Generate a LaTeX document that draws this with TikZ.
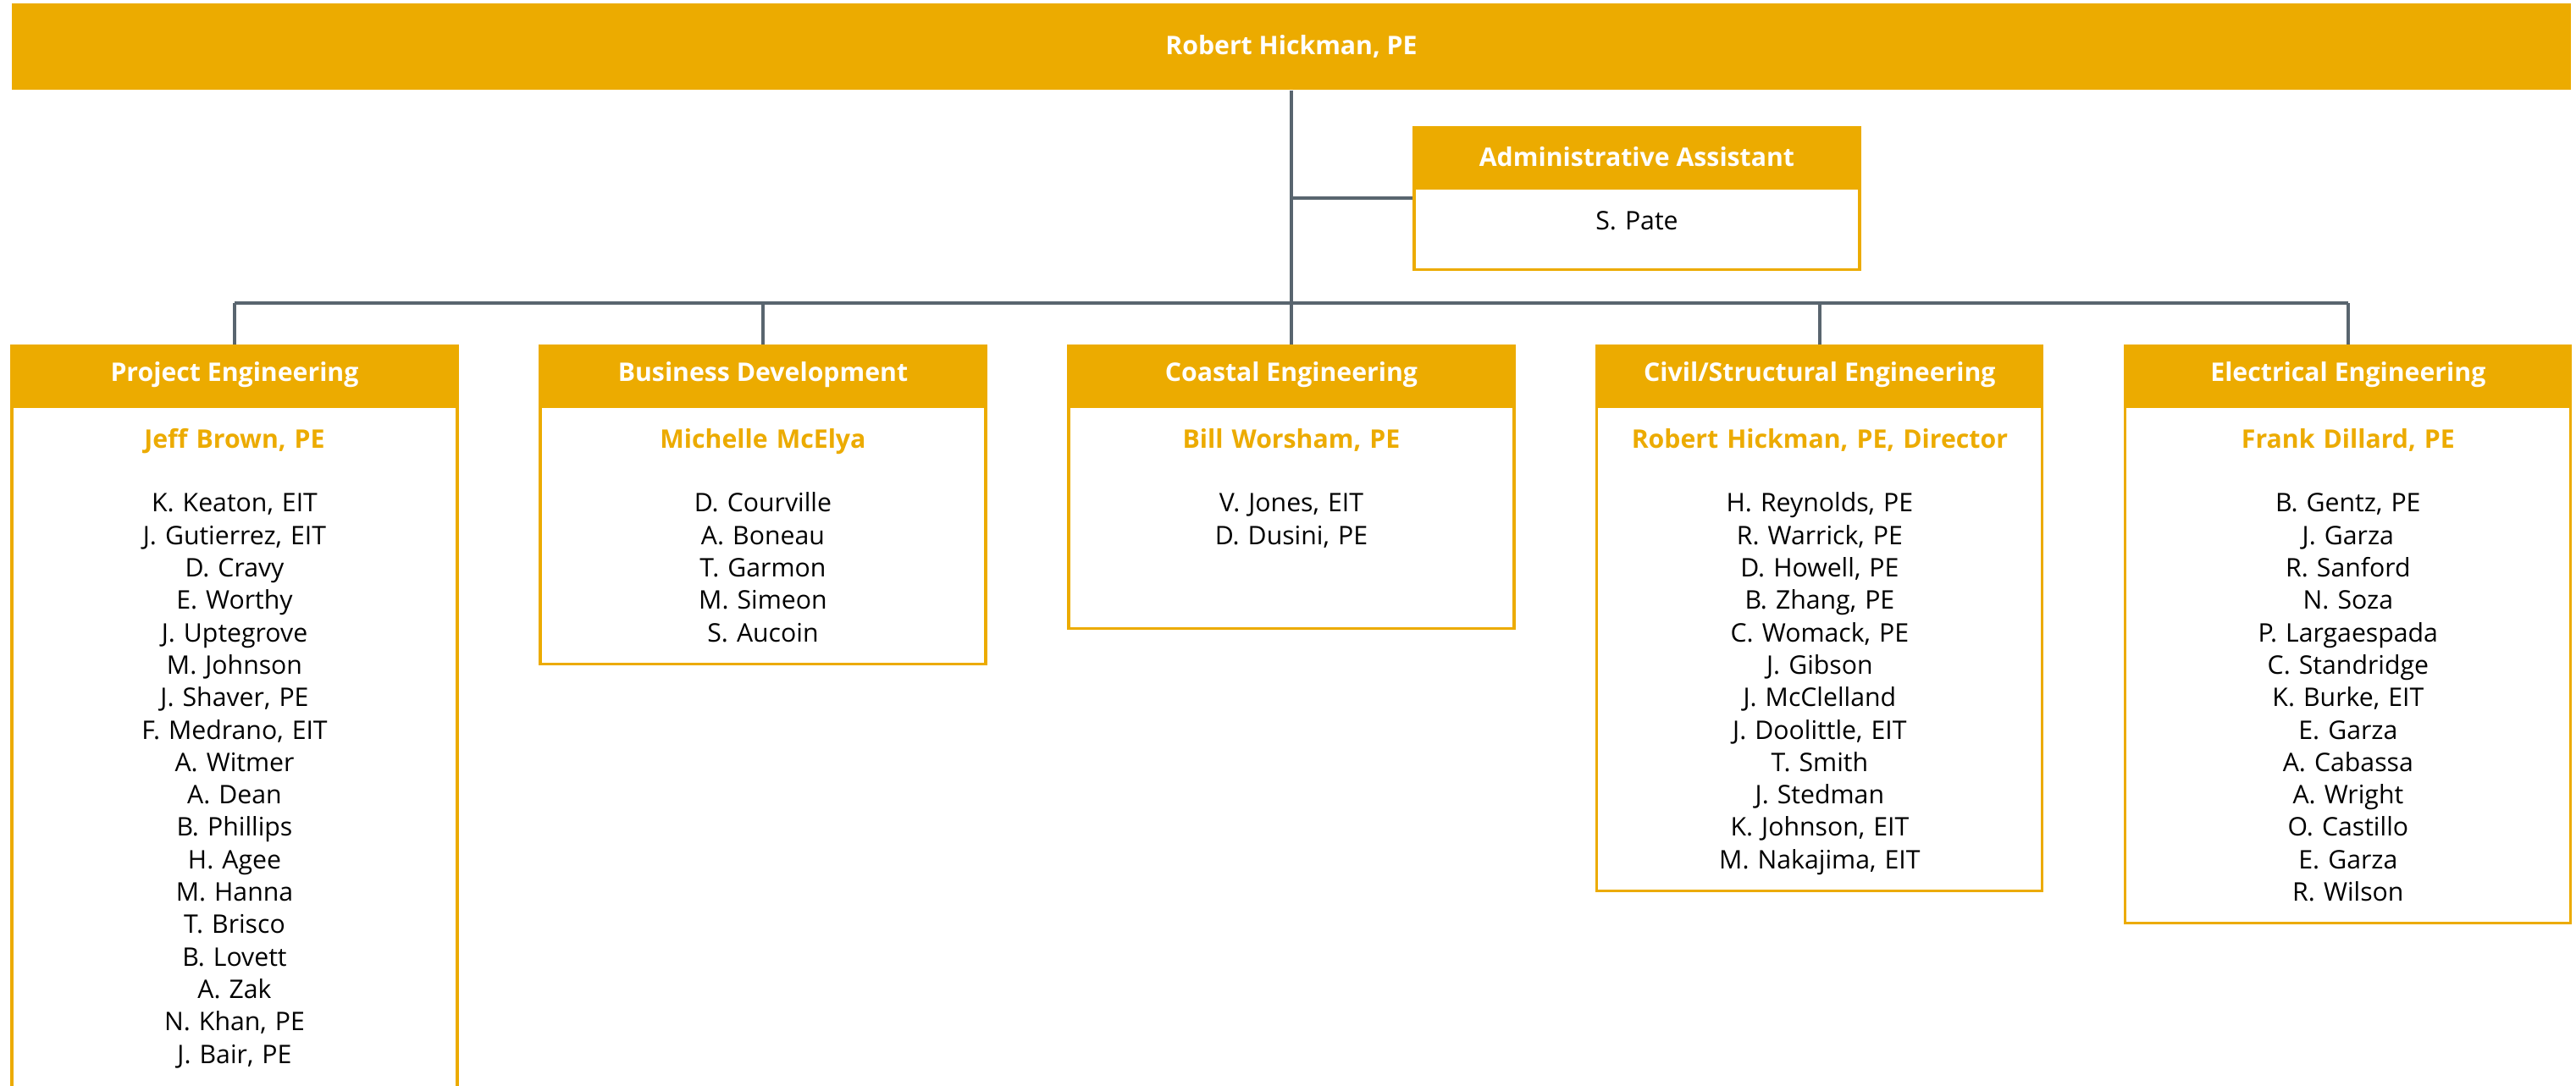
\documentclass[tikz,border=0pt]{standalone}
\usepackage{fontspec}
\setmainfont{Open Sans}
\usetikzlibrary{positioning,calc}
\definecolor{gold}{HTML}{ECAB00}
\definecolor{slate}{HTML}{59656F}
\newcommand{\orgfont}{\fontsize{8.6}{10.9}\selectfont}
\newcommand{\lead}[1]{{\bfseries\color{gold}#1}\\[10.6pt]}

\begin{document}
\begin{tikzpicture}[node distance=0.948cm,
    body/.style={rectangle, draw=gold, line width=0.9pt, fill=white, text width=5.0cm, inner xsep=0.13cm, inner ysep=0.1cm, align=center, font=\orgfont,
      execute at begin node={\rule{0pt}{11pt}}, execute at end node={\rule[-#1]{0pt}{0pt}}},
    body/.default=4.55pt]
    \tikzstyle{boss} = [rectangle, fill=gold, text=white, font=\orgfont\bfseries, minimum width=30.22cm, minimum height=1.02cm, inner sep=0pt]
    \tikzstyle{head} = [rectangle, fill=gold, draw=gold, line width=0.9pt, text=white, font=\orgfont\bfseries, minimum width=5.26cm, minimum height=0.69cm, inner sep=0pt]
    \tikzstyle{link} = [draw=slate, line width=1.1pt]

    \useasboundingbox (0,0) rectangle (30.42,12.83);

    \node [boss] (top) at (15.25,12.28) {Robert Hickman, PE};

    % assistant
    \node [head] (admhd) at (19.33,10.98) {Administrative Assistant};
    \node [body=10.5pt, below=0pt of admhd] (admbd) {S. Pate};

    % departments
    \node [head] (h1) at (2.77,8.40) {Project Engineering};
    \node [head, right=of h1] (h2) {Business Development};
    \node [head, right=of h2] (h3) {Coastal Engineering};
    \node [head, right=of h3] (h4) {Civil/Structural Engineering};
    \node [head, right=of h4] (h5) {Electrical Engineering};

    \node [body=7pt, below=0pt of h1] (b1) {\lead{Jeff Brown, PE}
        K. Keaton, EIT\\J. Gutierrez, EIT\\D. Cravy\\E. Worthy\\J. Uptegrove\\M. Johnson\\J. Shaver, PE\\F. Medrano, EIT\\A. Witmer\\
        A. Dean\\B. Phillips\\H. Agee\\M. Hanna\\T. Brisco\\B. Lovett\\A. Zak\\N. Khan, PE\\J. Bair, PE};
    \node [body, below=0pt of h2] (b2) {\lead{Michelle McElya}
        D. Courville\\A. Boneau\\T. Garmon\\M. Simeon\\S. Aucoin};
    \node [body=25.5pt, below=0pt of h3] (b3) {\lead{Bill Worsham, PE}
        V. Jones, EIT\\D. Dusini, PE};
    \node [body, below=0pt of h4] (b4) {\lead{Robert Hickman, PE, Director}
        H. Reynolds, PE\\R. Warrick, PE\\D. Howell, PE\\B. Zhang, PE\\C. Womack, PE\\J. Gibson\\J. McClelland\\J. Doolittle, EIT\\
        T. Smith\\J. Stedman\\K. Johnson, EIT\\M. Nakajima, EIT};
    \node [body, below=0pt of h5] (b5) {\lead{Frank Dillard, PE}
        B. Gentz, PE\\J. Garza\\R. Sanford\\N. Soza\\P. Largaespada\\C. Standridge\\K. Burke, EIT\\E. Garza\\A. Cabassa\\
        A. Wright\\O. Castillo\\E. Garza\\R. Wilson};

    % connectors
    \coordinate (bus) at (15.25,9.25);
    \coordinate (admmid) at ($(admhd.north west)!0.5!(admbd.south west)$);
    \draw [link] (top.south) -- (top.south |- h3.north);
    \draw [link] (admmid) -- (admmid -| top.south);
    \draw [link] (h1.north |- bus) -- (h5.north |- bus);
    \foreach \i in {1,2,4,5}
        \draw [link] (h\i.north) -- (h\i.north |- bus);
\end{tikzpicture}
\end{document}
